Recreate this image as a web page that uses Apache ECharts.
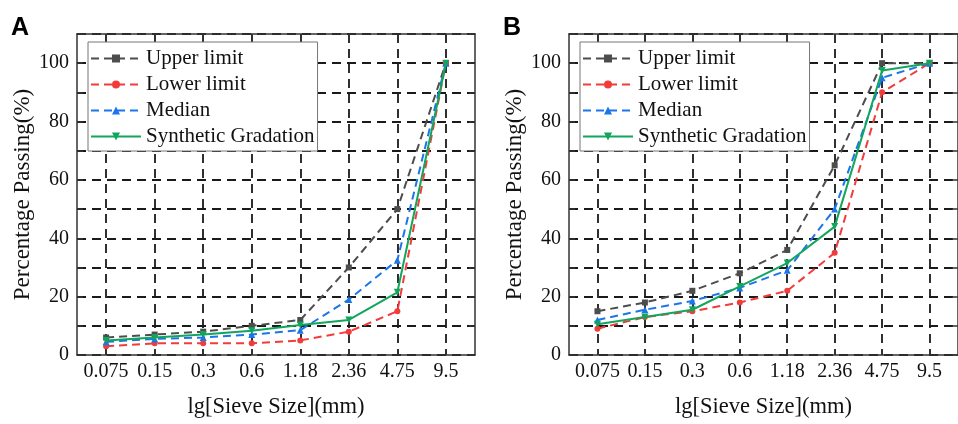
<!DOCTYPE html>
<html>
<head>
<meta charset="utf-8">
<script src="https://cdn.jsdelivr.net/npm/echarts@6/dist/echarts.min.js"></script>
<style>
  html, body { margin: 0; padding: 0; background: #fff; }
  #chart { width: 958px; height: 424px; }
</style>
</head>
<body>
<div id="chart"></div>
<script>
const sieveSizes = ['0.075', '0.15', '0.3', '0.6', '1.18', '2.36', '4.75', '9.5'];
const seriesNames = ['Upper limit', 'Lower limit', 'Median', 'Synthetic Gradation'];

// panel A
const upperA = [6, 7, 8, 10, 12, 30, 50, 100];
const lowerA = [3, 4, 4, 4, 5, 8, 15, 100];
const medianA = [4.5, 5.5, 6, 7, 8.5, 19, 32.5, 100];
const synthA = [5, 6, 7, 8.3, 10.3, 12, 21.5, 100];

// panel B
const upperB = [15, 18, 22, 28, 36, 65, 100, 100];
const lowerB = [9, 13, 15, 18, 22, 35, 90, 100];
const medianB = [12, 15.5, 18.5, 23, 29, 50, 95, 100];
const synthB = [10.5, 13, 15.5, 23.5, 31.5, 44, 97.5, 100];

const serif = 'Liberation Serif';
const ink = '#111';
const frame = { color: '#333', width: 1.5 };
const gridDash = { color: '#1a1a1a', width: 1.8, type: [9, 6] };
const catIdx = sieveSizes.map((s, i) => i);

// one style per series, same order as seriesNames
const looks = [
  { color: '#4d4d4d', symbol: 'rect', size: 6, rotate: 0, dash: [8, 5] },
  { color: '#f23b3b', symbol: 'circle', size: 6, rotate: 0, dash: [8, 5] },
  { color: '#1c75ea', symbol: 'triangle', size: 7, rotate: 0, dash: [8, 5] },
  { color: '#11a65b', symbol: 'triangle', size: 7, rotate: 180, dash: 'solid' }
];

function xAxes(g) {
  return [{
    type: 'value', gridIndex: g, min: -0.6, max: 7.6,
    axisLine: { show: true, onZero: false, lineStyle: frame },
    axisTick: { show: true, inside: true, length: 6, customValues: catIdx, lineStyle: frame },
    axisLabel: {
      customValues: catIdx, formatter: v => sieveSizes[Math.round(v)],
      fontFamily: serif, fontSize: 20, color: ink, margin: 7
    },
    splitLine: { show: true, lineStyle: gridDash },
    name: 'lg[Sieve Size](mm)', nameLocation: 'middle', nameGap: 41,
    nameTextStyle: { fontFamily: serif, fontSize: 22.5, color: ink }
  }, {
    type: 'value', gridIndex: g, position: 'top', min: -0.6, max: 7.6,
    axisLine: { show: true, onZero: false, lineStyle: frame },
    axisTick: { show: true, inside: true, length: 6, customValues: catIdx, lineStyle: frame },
    axisLabel: { show: false },
    splitLine: { show: false }
  }];
}

function yAxes(g) {
  return [{
    type: 'value', gridIndex: g, min: 0, max: 110, interval: 10,
    axisLine: { show: true, onZero: false, lineStyle: frame },
    axisTick: { show: true, inside: true, length: 6, lineStyle: frame },
    axisLabel: {
      formatter: v => (v % 20 === 0 && v <= 100 ? v : ''),
      fontFamily: serif, fontSize: 20, color: ink, margin: 8
    },
    splitLine: { show: true, lineStyle: gridDash },
    name: 'Percentage Passing(%)', nameLocation: 'middle', nameGap: 43,
    nameTextStyle: { fontFamily: serif, fontSize: 23, color: ink }
  }, {
    type: 'value', gridIndex: g, position: 'right', min: 0, max: 110, interval: 10,
    axisLine: { show: true, onZero: false, lineStyle: frame },
    axisTick: { show: true, inside: true, length: 6, lineStyle: frame },
    axisLabel: { show: false },
    splitLine: { show: false }
  }];
}

function panelSeries(values, g) {
  return values.map((vals, k) => ({
    name: seriesNames[k],
    type: 'line',
    xAxisIndex: g * 2,
    yAxisIndex: g * 2,
    data: vals.map((v, i) => [i, v]),
    symbol: looks[k].symbol,
    symbolSize: looks[k].size,
    symbolRotate: looks[k].rotate,
    showAllSymbol: true,
    z: 2 + k,
    itemStyle: { color: looks[k].color },
    lineStyle: { color: looks[k].color, width: 2, type: looks[k].dash },
    emphasis: { disabled: true },
    animation: false
  }));
}

function legendAt(left) {
  return {
    orient: 'vertical', left: left, top: 42,
    data: seriesNames,
    itemWidth: 50, itemHeight: 10, itemGap: 5,
    padding: [6, 3, 4, 2],
    backgroundColor: '#fff',
    borderColor: '#777', borderWidth: 1, borderRadius: 0,
    selectedMode: false,
    textStyle: { fontFamily: serif, fontSize: 21, color: ink, lineHeight: 21 }
  };
}

const chart = echarts.init(document.getElementById('chart'));
chart.setOption({
  backgroundColor: '#fff',
  animation: false,
  title: [
    { text: 'A', left: 6, top: 11, textStyle: { fontFamily: 'Liberation Sans', fontWeight: 'bold', fontSize: 25, color: '#000' } },
    { text: 'B', left: 498, top: 11, textStyle: { fontFamily: 'Liberation Sans', fontWeight: 'bold', fontSize: 25, color: '#000' } }
  ],
  grid: [
    { left: 77, top: 34, width: 398, bottom: 69, show: false },
    { left: 569, top: 34, width: 399, bottom: 69, show: false }
  ],
  legend: [legendAt(88), legendAt(580)],
  xAxis: [...xAxes(0), ...xAxes(1)],
  yAxis: [...yAxes(0), ...yAxes(1)],
  series: [
    ...panelSeries([upperA, lowerA, medianA, synthA], 0),
    ...panelSeries([upperB, lowerB, medianB, synthB], 1)
  ]
});
</script>
</body>
</html>
